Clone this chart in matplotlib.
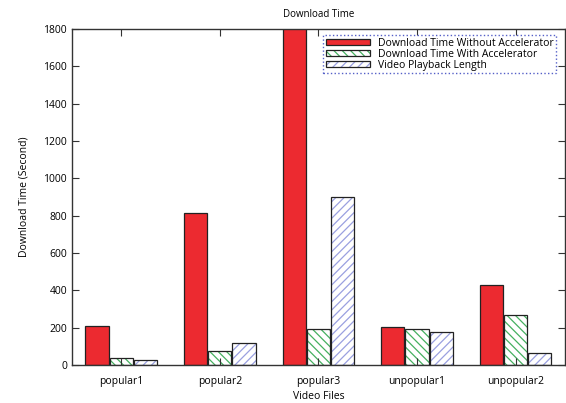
import numpy as np
import matplotlib
matplotlib.use("Agg")
import matplotlib.pyplot as plt
from matplotlib.legend_handler import HandlerTuple

plt.rcParams['font.family'] = ['Open Sans', 'DejaVu Sans']
plt.rcParams['hatch.linewidth'] = 0.9

files = ['popular1', 'popular2', 'popular3', 'unpopular1', 'unpopular2']
no_accel = [212, 814, 1850, 204, 430]
with_accel = [38, 75, 192, 191, 266]
playback = [28, 118, 900, 175, 64]

x = np.arange(len(files))
w = 0.235
step = 0.245

fig = plt.figure(figsize=(5.66, 4.03), dpi=100)
ax = fig.add_axes([0.127, 0.094, 0.871, 0.834])

b1 = ax.bar(x - step, no_accel, w, color='#ec2a30', edgecolor='#222222', linewidth=0.9)

# hatched bars: hatch drawn in colour, outline drawn on top in black
h2 = ax.bar(x, with_accel, w, color='white', edgecolor='#45b060', hatch='\\\\\\\\', linewidth=0)
o2 = ax.bar(x, with_accel, w, fill=False, edgecolor='#222222', linewidth=0.9)
h3 = ax.bar(x + step, playback, w, color='white', edgecolor='#9aa0e0', hatch='////', linewidth=0)
o3 = ax.bar(x + step, playback, w, fill=False, edgecolor='#222222', linewidth=0.9)

ax.set_xlim(-0.5, 4.5)
ax.set_ylim(0, 1800)
ax.set_yticks(range(0, 1801, 200))
ax.set_xticks(x)
ax.set_xticklabels(files)
ax.tick_params(direction='in', top=True, right=True, labelsize=7.5, length=5, width=0.8, color='#333333')
ax.tick_params(axis='x', pad=8)
for s in ax.spines.values():
    s.set_linewidth(1.0)
    s.set_color('#333333')

ax.set_title('Download Time', fontsize=7, pad=9)
ax.set_xlabel('Video Files', fontsize=7.5, labelpad=3)
ax.set_ylabel('Download Time (Second)', fontsize=7.5, labelpad=10)

leg = ax.legend([b1, (h2, o2), (h3, o3)],
                ['Download Time Without Accelerator', 'Download Time With Accelerator', 'Video Playback Length'],
                handler_map={tuple: HandlerTuple(ndivide=1)},
                loc='upper right', bbox_to_anchor=(0.993, 0.997), fontsize=7.5,
                handlelength=4.2, handleheight=0.6, handletextpad=0.8,
                labelspacing=0.0, borderpad=0.25, fancybox=False, framealpha=1)
leg.get_frame().set_edgecolor('#5560c8')
leg.get_frame().set_linestyle(':')
leg.get_frame().set_linewidth(1.0)

fig.savefig('out.png', dpi=100)
